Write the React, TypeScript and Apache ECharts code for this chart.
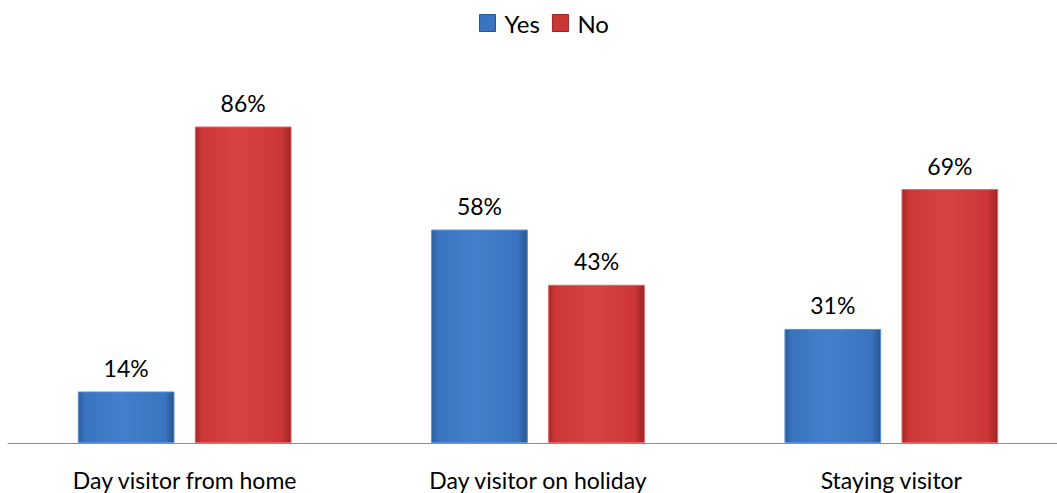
import React, { useEffect, useRef } from "react";
import * as echarts from "echarts";

const categories = ["Day visitor from home", "Day visitor on holiday", "Staying visitor"];
const yesValues = [14, 58, 31];
const noValues = [86, 43, 69];
const seriesNames = ["Yes", "No"];

const FONT = "Lato, 'Liberation Sans', sans-serif";

function grad(edge: string, mid: string, center: string, edge2: string) {
  return new echarts.graphic.LinearGradient(0, 0, 1, 0, [
    { offset: 0, color: edge },
    { offset: 0.07, color: mid },
    { offset: 0.45, color: center },
    { offset: 0.9, color: mid },
    { offset: 1, color: edge2 },
  ]);
}

export default function App() {
  const ref = useRef<HTMLDivElement>(null);
  useEffect(() => {
    if (!ref.current) return;
    const chart = echarts.init(ref.current, undefined, { renderer: "svg" });
    const blue = grad("#2d5d9c", "#3a74c0", "#437fca", "#2a568f");
    const red = grad("#a52828", "#cc3636", "#d84242", "#9a2424");
    const labelStyle = {
      show: true,
      position: "top",
      distance: 12,
      formatter: "{c}%",
      fontFamily: FONT,
      fontSize: 23,
      color: "#000",
    };
    chart.setOption({
      animation: false,
      legend: {
        top: 6,
        left: 474,
        icon: "rect",
        itemWidth: 16,
        itemHeight: 17,
        itemGap: 12,
        textStyle: { fontFamily: FONT, fontSize: 24, color: "#000", padding: [0, 0, 0, 4] },
        data: [
          { name: seriesNames[0], itemStyle: { color: "#3a74c0", borderColor: "#2a568f", borderWidth: 1 } },
          { name: seriesNames[1], itemStyle: { color: "#cc3636", borderColor: "#9a2424", borderWidth: 1 } },
        ],
      },
      grid: { left: 8, right: 12, top: 75, bottom: 50 },
      xAxis: {
        type: "category",
        data: categories,
        axisLine: { show: true, lineStyle: { color: "#8c8c8c", width: 1 } },
        axisTick: { show: false },
        axisLabel: { fontFamily: FONT, fontSize: 23, color: "#000", margin: 25 },
      },
      yAxis: {
        type: "value",
        min: 0,
        max: 100,
        show: false,
        splitLine: { show: false },
      },
      series: [
        {
          name: seriesNames[0],
          type: "bar",
          data: yesValues,
          barGap: "21%",
          barCategoryGap: "39.5%",
          itemStyle: { color: blue, borderColor: "#5a90d6", borderWidth: 1 },
          label: labelStyle,
        },
        {
          name: seriesNames[1],
          type: "bar",
          data: noValues,
          itemStyle: { color: red, borderColor: "#e26464", borderWidth: 1 },
          label: labelStyle,
        },
      ],
    });
    return () => chart.dispose();
  }, []);
  return (
    <div style={{ width: 1057, height: 493, position: "absolute", left: 0, top: 0, overflow: "hidden" }}>
      <div ref={ref} style={{ width: 1080, height: 493 }} />
    </div>
  );
}
